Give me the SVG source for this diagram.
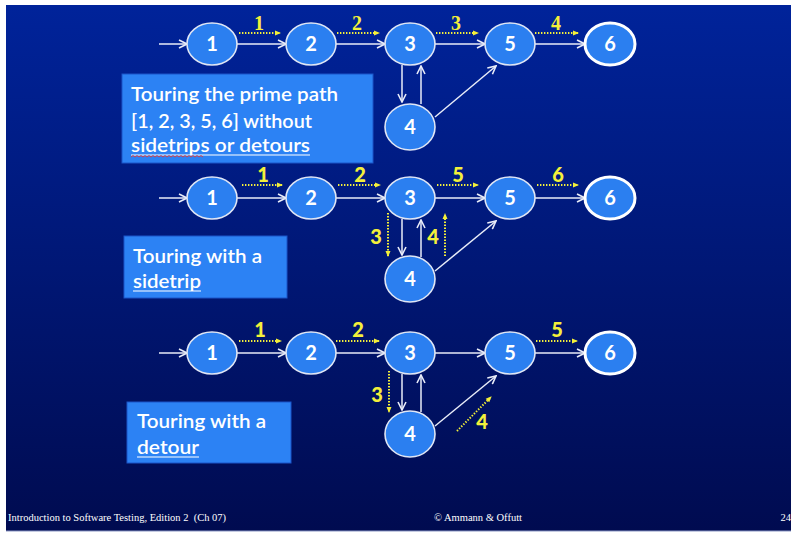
<svg xmlns="http://www.w3.org/2000/svg" width="794" height="536" viewBox="0 0 794 536">
  <defs>
    <linearGradient id="bg" x1="0" y1="0" x2="0" y2="1">
      <stop offset="0" stop-color="#00239a"/>
      <stop offset="1" stop-color="#000b50"/>
    </linearGradient>
    <marker id="wa" viewBox="0 0 10 10" refX="9" refY="5" markerWidth="10" markerHeight="10" markerUnits="userSpaceOnUse" orient="auto">
      <path d="M1,1 L9,5 L1,9" fill="none" stroke="#e8ecf8" stroke-width="1.6"/>
    </marker>
    <marker id="ya" viewBox="0 0 6 6" refX="5" refY="3" markerWidth="6" markerHeight="6" markerUnits="userSpaceOnUse" orient="auto">
      <path d="M0,0.5 L6,3 L0,5.5 Z" fill="#f4f03a"/>
    </marker>
  </defs>
  <style>
    .node ellipse { fill: #2b7ff0; stroke: #dfe6f5; stroke-width: 1.6; }
    .node.exit ellipse { stroke: #ffffff; stroke-width: 3; }
    .node text { font-family: Lato, "Open Sans", sans-serif; font-weight: bold; font-size: 20px; fill: #ffffff; text-anchor: middle; }
    .edge { stroke: #e8ecf8; stroke-width: 1.5; fill: none; marker-end: url(#wa); }
    .tour { stroke: #f4f03a; stroke-width: 2; stroke-dasharray: 1.4 1.6; fill: none; marker-end: url(#ya); }
    .tl { font-family: Lato, "Open Sans", sans-serif; font-weight: 900; font-size: 20px; fill: #f4f03a; text-anchor: middle; }
    .tl.serif { font-family: "Liberation Serif", serif; font-weight: bold; }
    .box rect { fill: #2c82f4; stroke: #1b55c8; stroke-width: 1; }
    .box text { font-family: Lato, "Open Sans", sans-serif; font-weight: 600; font-size: 20px; fill: #ffffff; }
    .ul { stroke: #ffffff; stroke-width: 1.2; }
    .foot { font-family: "Liberation Serif", serif; font-size: 10.5px; fill: #ffffff; white-space: pre; }
  </style>

  <!-- slide background -->
  <rect x="0" y="0" width="794" height="536" fill="#ffffff"/>
  <rect x="6" y="5" width="785" height="526" fill="url(#bg)"/>
  <line x1="6" y1="531" x2="791" y2="531" stroke="#8a96c4" stroke-width="1.2"/>

  <!-- ===== Graph A: prime path tour ===== -->
  <g id="connectors-a">
    <line class="edge" x1="159" y1="44" x2="187" y2="44"/>
    <line class="edge" x1="237" y1="44" x2="286" y2="44"/>
    <line class="edge" x1="336" y1="44" x2="385" y2="44"/>
    <line class="edge" x1="435" y1="44" x2="485" y2="44"/>
    <line class="edge" x1="535" y1="44" x2="585" y2="44"/>
    <line class="edge" x1="402" y1="65" x2="402" y2="102"/>
    <line class="edge" x1="421" y1="104" x2="421" y2="66"/>
    <line class="edge" x1="435" y1="117" x2="496" y2="66"/>
    <line class="tour" x1="239" y1="33" x2="280" y2="33"/>
    <line class="tour" x1="337" y1="33" x2="379" y2="33"/>
    <line class="tour" x1="436" y1="33" x2="478" y2="33"/>
    <line class="tour" x1="535" y1="33" x2="578" y2="33"/>
    <text class="tl serif" x="259" y="30">1</text>
    <text class="tl serif" x="357" y="30">2</text>
    <text class="tl serif" x="456" y="30">3</text>
    <text class="tl serif" x="556" y="30">4</text>
  </g>
  <g id="a1" class="node"><ellipse cx="212" cy="44" rx="25" ry="21"/><text x="212" y="51">1</text></g>
  <g id="a2" class="node"><ellipse cx="311" cy="44" rx="25" ry="21"/><text x="311" y="51">2</text></g>
  <g id="a3" class="node"><ellipse cx="410" cy="44" rx="25" ry="21"/><text x="410" y="51">3</text></g>
  <g id="a4" class="node"><ellipse cx="410" cy="127" rx="25" ry="23"/><text x="410" y="134">4</text></g>
  <g id="a5" class="node"><ellipse cx="510" cy="44" rx="25" ry="21"/><text x="510" y="51">5</text></g>
  <g id="a6" class="node exit"><ellipse cx="610" cy="44" rx="25" ry="21"/><text x="610" y="51">6</text></g>

  <g id="note-a" class="box">
    <rect x="122" y="74" width="251" height="89"/>
    <text x="131" y="101" textLength="207" lengthAdjust="spacingAndGlyphs">Touring the prime path</text>
    <text x="131" y="128" textLength="181" lengthAdjust="spacingAndGlyphs">[1, 2, 3, 5, 6] without</text>
    <text x="131" y="152" textLength="179" lengthAdjust="spacingAndGlyphs">sidetrips or detours</text>
    <line class="ul" x1="131" y1="155" x2="310" y2="155"/>
    <path d="M131,157 l2,-1.5 l2,1.5 l2,-1.5 l2,1.5 l2,-1.5 l2,1.5 l2,-1.5 l2,1.5 l2,-1.5 l2,1.5 l2,-1.5 l2,1.5 l2,-1.5 l2,1.5 l2,-1.5 l2,1.5 l2,-1.5 l2,1.5 l2,-1.5 l2,1.5 l2,-1.5 l2,1.5 l2,-1.5 l2,1.5 l2,-1.5 l2,1.5 l2,-1.5 l2,1.5 l2,-1.5 l2,1.5 l2,-1.5 l2,1.5 l2,-1.5 l2,1.5 l2,-1.5 l2,1.5" fill="none" stroke="#e03a3a" stroke-width="0.9"/>
  </g>

  <!-- ===== Graph B: sidetrip ===== -->
  <g id="connectors-b">
    <line class="edge" x1="159" y1="198" x2="187" y2="198"/>
    <line class="edge" x1="237" y1="198" x2="286" y2="198"/>
    <line class="edge" x1="336" y1="198" x2="385" y2="198"/>
    <line class="edge" x1="435" y1="198" x2="485" y2="198"/>
    <line class="edge" x1="535" y1="198" x2="585" y2="198"/>
    <line class="edge" x1="402" y1="219" x2="402" y2="255"/>
    <line class="edge" x1="421" y1="257" x2="421" y2="220"/>
    <line class="edge" x1="435" y1="271" x2="496" y2="221"/>
    <line class="tour" x1="242" y1="185" x2="282" y2="185"/>
    <line class="tour" x1="338" y1="185" x2="380" y2="185"/>
    <line class="tour" x1="437" y1="185" x2="478" y2="185"/>
    <line class="tour" x1="537" y1="185" x2="578" y2="185"/>
    <line class="tour" x1="388" y1="213" x2="388" y2="256"/>
    <line class="tour" x1="445" y1="256" x2="445" y2="214"/>
    <text class="tl" x="263" y="182">1</text>
    <text class="tl" x="360" y="182">2</text>
    <text class="tl" x="458" y="182">5</text>
    <text class="tl" x="558" y="182">6</text>
    <text class="tl" x="376" y="244">3</text>
    <text class="tl" x="433" y="244">4</text>
  </g>
  <g id="b1" class="node"><ellipse cx="212" cy="198" rx="25" ry="21"/><text x="212" y="205">1</text></g>
  <g id="b2" class="node"><ellipse cx="311" cy="198" rx="25" ry="21"/><text x="311" y="205">2</text></g>
  <g id="b3" class="node"><ellipse cx="410" cy="198" rx="25" ry="21"/><text x="410" y="205">3</text></g>
  <g id="b4" class="node"><ellipse cx="410" cy="279" rx="25" ry="23"/><text x="410" y="286">4</text></g>
  <g id="b5" class="node"><ellipse cx="510" cy="198" rx="25" ry="21"/><text x="510" y="205">5</text></g>
  <g id="b6" class="node exit"><ellipse cx="610" cy="198" rx="25" ry="21"/><text x="610" y="205">6</text></g>

  <g id="note-b" class="box">
    <rect x="124" y="236" width="163" height="62"/>
    <text x="133" y="263" textLength="129" lengthAdjust="spacingAndGlyphs">Touring with a</text>
    <text x="133" y="288" textLength="68" lengthAdjust="spacingAndGlyphs">sidetrip</text>
    <line class="ul" x1="133" y1="291" x2="201" y2="291"/>
  </g>

  <!-- ===== Graph C: detour ===== -->
  <g id="connectors-c">
    <line class="edge" x1="159" y1="353" x2="187" y2="353"/>
    <line class="edge" x1="237" y1="353" x2="286" y2="353"/>
    <line class="edge" x1="336" y1="353" x2="385" y2="353"/>
    <line class="edge" x1="435" y1="353" x2="485" y2="353"/>
    <line class="edge" x1="535" y1="353" x2="585" y2="353"/>
    <line class="edge" x1="402" y1="374" x2="402" y2="410"/>
    <line class="edge" x1="421" y1="412" x2="421" y2="375"/>
    <line class="edge" x1="435" y1="426" x2="496" y2="376"/>
    <line class="tour" x1="239" y1="341" x2="281" y2="341"/>
    <line class="tour" x1="336" y1="341" x2="379" y2="341"/>
    <line class="tour" x1="536" y1="341" x2="577" y2="341"/>
    <line class="tour" x1="389" y1="371" x2="389" y2="412"/>
    <line class="tour" x1="457" y1="431" x2="491" y2="397"/>
    <text class="tl" x="260" y="337">1</text>
    <text class="tl" x="358" y="337">2</text>
    <text class="tl" x="557" y="337">5</text>
    <text class="tl" x="377" y="402">3</text>
    <text class="tl" x="482" y="429">4</text>
  </g>
  <g id="c1" class="node"><ellipse cx="212" cy="353" rx="25" ry="21"/><text x="212" y="360">1</text></g>
  <g id="c2" class="node"><ellipse cx="311" cy="353" rx="25" ry="21"/><text x="311" y="360">2</text></g>
  <g id="c3" class="node"><ellipse cx="410" cy="353" rx="25" ry="21"/><text x="410" y="360">3</text></g>
  <g id="c4" class="node"><ellipse cx="410" cy="434" rx="25" ry="23"/><text x="410" y="441">4</text></g>
  <g id="c5" class="node"><ellipse cx="510" cy="353" rx="25" ry="21"/><text x="510" y="360">5</text></g>
  <g id="c6" class="node exit"><ellipse cx="610" cy="353" rx="25" ry="21"/><text x="610" y="360">6</text></g>

  <g id="note-c" class="box">
    <rect x="127" y="402" width="164" height="61"/>
    <text x="137" y="428" textLength="129" lengthAdjust="spacingAndGlyphs">Touring with a</text>
    <text x="137" y="454" textLength="62" lengthAdjust="spacingAndGlyphs">detour</text>
    <line class="ul" x1="137" y1="457" x2="199" y2="457"/>
  </g>

  <!-- footer -->
  <text class="foot" x="8" y="521">Introduction to Software Testing, Edition 2  (Ch 07)</text>
  <text class="foot" x="478" y="521" text-anchor="middle">© Ammann &amp; Offutt</text>
  <text class="foot" x="791" y="521" text-anchor="end">24</text>
</svg>
